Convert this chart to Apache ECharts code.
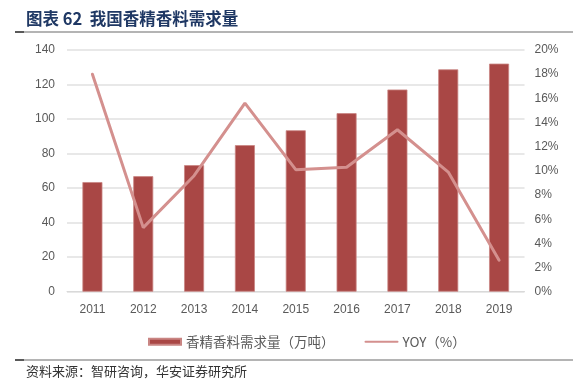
<!DOCTYPE html>
<html>
<head>
<meta charset="utf-8">
<script src="https://cdn.jsdelivr.net/npm/echarts@6/dist/echarts.min.js"></script>
<style>
html,body{margin:0;padding:0;background:#fff;}
#chart{width:573px;height:392px;}
</style>
</head>
<body>
<div id="chart"></div>
<script>
const categories = ['2011','2012','2013','2014','2015','2016','2017','2018','2019'];
const demand = [63.5, 66.9, 73.3, 84.9, 93.5, 103.4, 117.1, 128.8, 132.1];
const yoy = [18.0, 5.3, 9.6, 15.6, 10.1, 10.3, 13.4, 9.9, 2.6];
const leftTicks = {min: 0, max: 140, interval: 20};
const rightTicks = {min: 0, max: 20, interval: 2};
const seriesNames = ['香精香料需求量（万吨）', 'YOY（%）'];
const titleText = '图表 62  我国香精香料需求量';
const sourceText = '资料来源：智研咨询，华安证券研究所';

const chart = echarts.init(document.getElementById('chart'), null, {renderer: 'canvas'});
const labelFont = {color: '#595959', fontSize: 12, fontFamily: 'Liberation Sans, Arial, sans-serif'};
chart.setOption({
  animation: false,
  backgroundColor: '#fff',
  grid: {left: 67, right: 48.5, top: 50, bottom: 100.3, containLabel: false},
  graphic: [
    {type: 'text', left: 26, top: 10, style: {text: titleText, fill: '#1f3864', font: 'bold 16.5px "Noto Sans CJK SC", serif'}},
    {type: 'rect', shape: {x: 15, y: 31, width: 558, height: 2}, style: {fill: '#b4b4b4'}},
    {type: 'rect', shape: {x: 15, y: 31, width: 9, height: 2}, style: {fill: '#595959'}},
    {type: 'rect', shape: {x: 15, y: 359, width: 558, height: 2}, style: {fill: '#b4b4b4'}},
    {type: 'rect', shape: {x: 15, y: 359, width: 9, height: 2}, style: {fill: '#595959'}},
    {type: 'text', left: 26, top: 365, style: {text: sourceText, fill: '#333', font: '13px "Noto Sans CJK SC", serif'}}
  ],
  legend: {
    left: 143, top: 330,
    itemWidth: 32, itemHeight: 6, itemGap: 30,
    textStyle: {color: '#595959', fontSize: 13.5, fontFamily: '"Noto Sans CJK SC", sans-serif'},
    data: [{name: seriesNames[0], icon: 'rect'}, {name: seriesNames[1], itemStyle: {opacity: 0}}]
  },
  xAxis: {
    type: 'category', data: categories,
    axisLine: {lineStyle: {color: '#d9d9d9'}},
    axisTick: {show: false},
    axisLabel: Object.assign({margin: 12}, labelFont)
  },
  yAxis: [
    {
      type: 'value', min: leftTicks.min, max: leftTicks.max, interval: leftTicks.interval,
      axisLine: {show: false}, axisTick: {show: false},
      splitLine: {lineStyle: {color: '#e0e0e0', width: 1.5}},
      axisLabel: Object.assign({margin: 12}, labelFont)
    },
    {
      type: 'value', min: rightTicks.min, max: rightTicks.max, interval: rightTicks.interval,
      axisLine: {show: false}, axisTick: {show: false},
      splitLine: {show: false},
      axisLabel: Object.assign({margin: 10, formatter: '{value}%'}, labelFont)
    }
  ],
  series: [
    {
      name: seriesNames[0], type: 'bar', data: demand, barWidth: 20, yAxisIndex: 0,
      itemStyle: {color: '#a94745', borderColor: '#c98583', borderWidth: 0.8}
    },
    {
      name: seriesNames[1], type: 'line', data: yoy, yAxisIndex: 1,
      symbol: 'none', z: 5,
      lineStyle: {color: '#d4908e', width: 3, cap: 'round'},
      itemStyle: {color: '#d4908e'}
    }
  ]
});
</script>
</body>
</html>
